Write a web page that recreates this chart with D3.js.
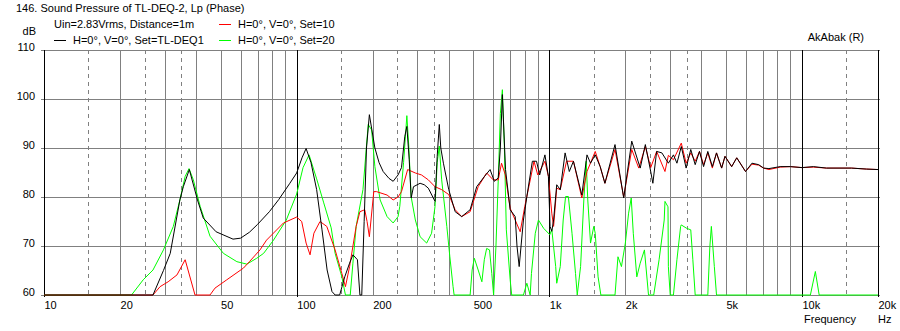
<!DOCTYPE html>
<html>
<head>
<meta charset="utf-8">
<script src="https://cdn.jsdelivr.net/npm/d3@7"></script>
<style>
  body { margin: 0; background: #fff; }
  svg { display: block; font-family: Arial, "Liberation Sans", sans-serif; font-size: 11px; }
</style>
</head>
<body>
<svg id="chart" width="900" height="331"></svg>
<script>
// frequency axis
const xTickValues = [10, 20, 50, 100, 200, 500, 1000, 2000, 5000, 10000, 20000];
const xTickLabels = ["10", "20", "50", "100", "200", "500", "1k", "2k", "5k", "10k", "20k"];
const decadeLines = [10, 100, 1000, 10000, 20000];
const minorLines = [20, 30, 40, 50, 60, 70, 80, 90,
    200, 300, 400, 500, 600, 700, 800, 900,
    2000, 3000, 4000, 5000, 6000, 7000, 8000, 9000];
const dashedLines = [15, 25, 35, 150, 250, 350, 1500, 2500, 3500, 15000];

// level axis
const yTicks = [60, 70, 80, 90, 100, 110];

// H=0°, V=0°, Set=TL-DEQ1  [Hz, dB]
const blackData = [[10,60],[27,60],[29.7,65],[31.6,68.5],[34.5,79.4],[35.6,82.1],[37.6,85.6],[40.5,79.4],[42.7,75.7],
    [48,72.9],[56,71.4],[60,71.6],[65,72.8],[70,74.4],[78,77],[85,79.5],[94,82.8],[100,84.9],[105,88],[109,89.9],
    [114,87],[120,81.5],[126,73.3],[132,65.1],[138,60.7],[142,60],[148,60],[155,63.7],[162,66.5],[167,68.2],[174,67.2],
    [178,60],[181,60],[185,75],[189,90],[194,96.8],[204,90],[212,87],[220,85.2],[232,83.8],[241,83.2],[252,84.5],
    [260,86],[268,92.4],[273,94.4],[279,87.6],[284,79.8],[290,82.1],[308,82.8],[320,82.5],[332,81.8],[353,79.1],
    [360,88.3],[367,94.8],[372,90],[381,86.9],[400,81.5],[424,77],[450,76],[486,77.4],[516,82.1],[554,84.2],[583,85.6],
    [606,83.2],[628,83.9],[640,90],[652,100.9],[671,85.6],[700,77.4],[733,76],[745,70],[760,65.8],[790,75.3],[815,80.1],
    [857,87.3],[890,87.3],[916,84.5],[961,88.6],[992,84.2],[1007,74],[1023,73],[1040,75.3],[1070,82.5],[1105,81.5],
    [1155,89],[1200,85.2],[1246,87.3],[1345,80.4],[1410,88.6],[1456,86.9],[1520,88.6],[1590,86.2],[1660,82.8],
    [1820,90.7],[1970,79.8],[2120,91.4],[2290,85.9],[2400,90.7],[2520,85.2],[2570,82.8],[2660,89.3],[2790,89],
    [2960,86.9],[3100,88.6],[3200,86.9],[3330,90.3],[3480,85.9],[3630,89.7],[3780,86.6],[3930,89.3],[4080,86.2],
    [4240,89.3],[4420,86.2],[4590,89],[4810,85.9],[4960,88.3],[5270,86.2],[5520,88],[5980,85.2],[6340,86.9],
    [6740,86.6],[7050,85.9],[7400,85.8],[8200,86.2],[9000,86.2],[10000,86],[11100,86.2],[12500,85.9],[15700,85.9],
    [18000,85.7],[20000,85.6]];

// H=0°, V=0°, Set=10
const redData = [[10,60],[27,60],[28.8,61.7],[31,62.7],[33.6,64.1],[36.2,67.2],[39.6,60],[45.4,60],[47.5,61.4],
    [52.9,63.1],[61.6,65.5],[65,66.8],[71.6,69.2],[76,71.2],[88.7,74.7],[100,75.9],[104.7,75],[109,70.6],[113,68.2],
    [117,72.6],[123.7,75],[131.6,74],[142,69.2],[151,64.4],[156,61.7],[162,65.8],[172,74],[178,77],[186,77.4],
    [190,75],[194,71.9],[202,81.1],[207,81.1],[228,80.4],[241,79.4],[252,80],[260,81.1],[275,85.6],[295,84.9],
    [312,84.5],[332,83.5],[353,82.1],[375,81.5],[400,80.5],[424,77.4],[450,76],[486,77],[523,82.1],[565,84.9],
    [600,83.5],[628,83.5],[647,86.9],[670,84.5],[700,77.7],[733,75.3],[767,72.9],[800,78.1],[830,82.1],[870,87.3],
    [900,84.5],[961,87.3],[992,84.2],[1023,76.7],[1040,74],[1070,81.8],[1105,81.5],[1170,87.3],[1246,87.3],
    [1345,79.8],[1410,85.2],[1520,89.3],[1590,86.2],[1660,82.8],[1820,89.7],[1970,80],[2120,89.7],[2260,85.9],
    [2400,90.3],[2520,86],[2660,89.3],[2870,85.2],[2960,88.5],[3100,87.6],[3330,91],[3480,86.9],[3630,89],
    [3780,87.3],[3930,89.3],[4080,86.6],[4240,89],[4420,85.9],[4590,89],[4810,85.9],[4960,88.3],[5270,86.2],
    [5520,88],[5980,85.2],[6340,86.7],[6740,86.5],[7050,85.9],[7400,85.6],[8200,86.1],[9000,86.2],[10000,86],
    [11100,86.1],[12500,85.9],[15700,85.9],[18000,85.7],[20000,85.6]];

// H=0°, V=0°, Set=20
const greenData = [[10,60],[22.2,60],[24.7,63.1],[27,65.1],[29.7,69.2],[32.5,74],[34.5,79.4],[36.2,84.2],[37.5,85.8],
    [39,83.5],[41.5,78.1],[45.4,72],[51.3,68.5],[58,66.8],[63.5,66.3],[69.5,67.5],[74,68.5],[81,71.2],[91,75.3],
    [100,80.6],[106,86],[112,88.6],[120,83.7],[128,78.8],[137,73.7],[142,68.5],[151,63.7],[156,60],[163,60],
    [167,66.5],[172,74],[183,81.5],[192,94.8],[198,93.7],[204,86.2],[214,79.4],[228,76],[241,74.7],[252,76],
    [256,78.1],[265,87],[273,96.6],[278,90.2],[284,80],[295,75.3],[308,71.9],[327,70.6],[342,72.6],[353,78.1],
    [360,87],[367,90.4],[375,83.5],[393,74],[404,67.8],[416,61.7],[420,60],[486,60],[495,65.1],[505,67.5],[523,65.1],
    [541,62.7],[553,67.2],[565,69.5],[580,69.2],[592,64.4],[602,60],[615,70],[628,83.5],[640,97],[652,101.9],
    [664,90.3],[676,73.3],[700,63.1],[710,60],[790,60],[815,62.4],[840,60],[850,64.4],[880,72.6],[906,75.3],
    [950,73.6],[1005,72.3],[1023,73.4],[1060,65.8],[1070,62.4],[1105,65.8],[1135,75.3],[1160,80.1],[1190,80.1],
    [1230,72.6],[1270,64.4],[1290,60],[1330,65.8],[1370,79.4],[1400,87.3],[1420,79.4],[1456,70.6],[1500,74],
    [1520,72.6],[1560,63.7],[1600,60],[1820,60],[1870,67.8],[1930,65.8],[2000,70.6],[2060,76.7],[2110,79.8],
    [2150,72.6],[2220,63.7],[2290,66.5],[2380,69.2],[2470,60],[2590,60],[2720,67.2],[2850,75.3],[2870,79.1],
    [2950,78],[2960,65.8],[3010,60],[3100,60],[3200,67.2],[3310,74],[3330,74.3],[3500,73.6],[3630,73.3],[3700,67.2],
    [3780,60],[4240,60],[4320,69.9],[4380,74],[4500,65.8],[4590,60],[10800,60],[11300,64.8],[11700,60],[20000,60]];

const series = [
    {name: "H=0°, V=0°, Set=20", color: "#00ff00", data: greenData},
    {name: "H=0°, V=0°, Set=10", color: "#ff0000", data: redData},
    {name: "H=0°, V=0°, Set=TL-DEQ1", color: "#000000", data: blackData}
];

const GRID = "#808080";

const svg = d3.select("#chart");

const x = d3.scaleLog().domain([10, 20000]).range([44, 878]);
const y = d3.scaleLinear().domain([60, 110]).range([295, 50]);

// grid
const grid = svg.append("g").attr("shape-rendering", "crispEdges");

grid.selectAll(".hgrid")
    .data(yTicks)
    .enter()
    .append("line")
    .attr("class", "hgrid")
    .attr("x1", x(10)).attr("x2", x(20000) + 2)
    .attr("y1", (d) => y(d) + 0.5).attr("y2", (d) => y(d) + 0.5)
    .attr("stroke", GRID);

grid.selectAll(".dgrid")
    .data(dashedLines)
    .enter()
    .append("line")
    .attr("class", "dgrid")
    .attr("x1", (d) => Math.round(x(d)) + 0.5).attr("x2", (d) => Math.round(x(d)) + 0.5)
    .attr("y1", y(110)).attr("y2", y(60))
    .attr("stroke", GRID)
    .attr("stroke-dasharray", "4,4");

grid.selectAll(".mgrid")
    .data(minorLines)
    .enter()
    .append("line")
    .attr("class", "mgrid")
    .attr("x1", (d) => Math.round(x(d)) + 0.5).attr("x2", (d) => Math.round(x(d)) + 0.5)
    .attr("y1", y(110)).attr("y2", y(60))
    .attr("stroke", GRID);

grid.selectAll(".decade")
    .data(decadeLines)
    .enter()
    .append("line")
    .attr("class", "decade")
    .attr("x1", (d) => Math.round(x(d)) + 0.5).attr("x2", (d) => Math.round(x(d)) + 0.5)
    .attr("y1", y(110)).attr("y2", y(60) + 2)
    .attr("stroke", "#000");

// axes (labels only, the grid draws the frame)
const yAxis = svg.append("g")
    .attr("transform", `translate(${x(10)},0)`)
    .call(d3.axisLeft(y).tickValues(yTicks).tickSize(3).tickPadding(6).tickSizeOuter(0));
yAxis.select(".domain").remove();
yAxis.selectAll(".tick line").attr("stroke", GRID).attr("shape-rendering", "crispEdges");
yAxis.selectAll(".tick text")
    .attr("dy", "0")
    .attr("y", 0)
    .attr("fill", "#000")
    .style("font-family", null).style("font-size", null)
    .attr("font-family", null).attr("font-size", null);
yAxis.attr("font-family", null).attr("font-size", null);

const xAxis = svg.append("g")
    .attr("transform", `translate(0,${y(60)})`)
    .call(d3.axisBottom(x).tickValues(xTickValues).tickSize(0)
        .tickFormat((d, i) => xTickLabels[i]));
xAxis.select(".domain").remove();
xAxis.selectAll(".tick text")
    .attr("text-anchor", "start")
    .attr("dy", "0")
    .attr("y", 14)
    .attr("fill", "#000");
xAxis.attr("font-family", null).attr("font-size", null);

// curves
const line = d3.line()
    .x((d) => x(d[0]))
    .y((d) => y(d[1]));

svg.append("g")
    .selectAll("path")
    .data(series)
    .enter()
    .append("path")
    .attr("d", (d) => line(d.data))
    .attr("fill", "none")
    .attr("stroke", (d) => d.color)
    .attr("stroke-width", 1);

// texts
const txt = (tx, ty, s, anchor) => svg.append("text")
    .attr("x", tx).attr("y", ty)
    .attr("text-anchor", anchor || "start")
    .text(s);

txt(16, 12, "146. Sound Pressure of TL-DEQ-2, Lp (Phase)");
txt(54, 28, "Uin=2.83Vrms, Distance=1m");
txt(36, 35, "dB", "end");
txt(864, 41, "AkAbak (R)", "end");
txt(804, 323, "Frequency");
txt(878, 323, "Hz");

// legend
const legendPos = [
    {x: 219, y: 40},   // Set=20
    {x: 219, y: 24},   // Set=10
    {x: 54, y: 40}     // TL-DEQ1
];
const legend = svg.append("g")
    .selectAll("g")
    .data(series)
    .enter()
    .append("g")
    .attr("transform", (d, i) => `translate(${legendPos[i].x},${legendPos[i].y})`);
legend.append("line")
    .attr("x1", 0).attr("x2", 12)
    .attr("y1", 0.5).attr("y2", 0.5)
    .attr("stroke", (d) => d.color)
    .attr("shape-rendering", "crispEdges");
legend.append("text")
    .attr("x", 19).attr("y", 4)
    .text((d) => d.name);
</script>
</body>
</html>
